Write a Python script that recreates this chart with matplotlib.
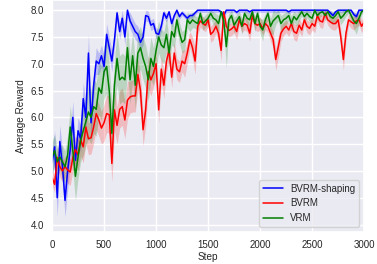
import numpy as np
import matplotlib
matplotlib.use('Agg')
import matplotlib.pyplot as plt
import seaborn as sns

sns.set_theme(style='darkgrid')
plt.rcParams['font.family'] = ['Liberation Sans', 'DejaVu Sans']

# training steps (every 25 steps, 0..3000)
steps = np.arange(0, 3001, 25)

# mean reward per method
shaping_mean = [
    5.15, 5.45, 4.5, 5.55, 5.1, 4.45, 5.0, 5.4, 6.0, 5.2,
    5.75, 5.6, 6.35, 6.0, 7.2, 5.9, 6.6, 7.05, 7.0, 7.15,
    6.95, 7.55, 7.3, 7.05, 7.45, 7.95, 7.6, 7.85, 7.5, 8.0,
    7.8, 7.7, 7.6, 7.55, 7.4, 7.5, 7.9, 7.88, 7.72, 7.75,
    7.57, 7.55, 7.7, 7.95, 7.85, 7.97, 7.75, 7.9, 8.0, 7.88,
    7.95, 7.9, 7.85, 7.9, 7.9, 7.95, 8.0, 8.0, 8.0, 8.0,
    8.0, 8.0, 8.0, 8.0, 8.0, 7.97, 7.9, 8.0, 8.0, 8.0,
    8.0, 7.96, 8.0, 8.0, 8.0, 8.0, 7.97, 8.0, 8.0, 8.0,
    8.0, 8.0, 8.0, 8.0, 8.0, 8.0, 8.0, 8.0, 8.0, 8.0,
    8.0, 7.97, 8.0, 8.0, 8.0, 8.0, 8.0, 8.0, 8.0, 8.0,
    8.0, 8.0, 8.0, 8.0, 8.0, 8.0, 8.0, 7.95, 7.9, 7.97,
    8.0, 8.0, 8.0, 8.0, 8.0, 8.0, 7.92, 7.88, 8.0, 8.0,
    8.0]
bvrm_mean = [
    4.88, 4.75, 5.25, 5.08, 5.0, 5.08, 5.02, 4.98, 5.25, 5.4,
    5.3, 5.58, 5.45, 5.82, 5.6, 5.62, 5.82, 6.07, 5.95, 5.8,
    5.9, 6.07, 6.05, 5.14, 6.14, 5.85, 6.15, 6.2, 5.95, 6.32,
    6.38, 6.4, 6.4, 6.8, 6.5, 5.77, 6.14, 6.85, 6.7, 6.82,
    7.0, 6.14, 6.9, 6.6, 7.05, 7.25, 6.75, 7.2, 6.9, 6.85,
    7.05, 7.0, 7.2, 7.45, 7.3, 7.05, 7.7, 7.8, 7.75, 7.72,
    7.82, 7.55, 7.6, 7.7, 7.57, 7.25, 7.97, 7.7, 7.62, 7.65,
    7.7, 7.6, 7.82, 7.7, 7.75, 7.72, 7.57, 7.9, 7.75, 7.72,
    7.75, 7.66, 7.75, 7.7, 7.57, 7.45, 7.08, 7.32, 7.57, 7.65,
    7.7, 7.63, 7.75, 7.6, 7.57, 7.72, 7.63, 7.82, 7.7, 7.66,
    7.75, 7.7, 7.9, 7.8, 7.78, 7.94, 7.82, 7.78, 7.75, 7.75,
    7.82, 7.5, 7.08, 7.57, 7.82, 7.78, 7.75, 7.8, 7.82, 7.7,
    7.78]
vrm_mean = [
    5.26, 5.38, 5.17, 5.26, 5.17, 5.08, 5.3, 5.82, 5.38, 4.9,
    5.26, 5.57, 5.75, 5.92, 6.1, 6.0, 6.2, 6.15, 6.55, 6.45,
    6.85, 6.95, 6.5, 5.7, 6.6, 7.1, 6.7, 6.75, 6.7, 7.3,
    6.7, 7.15, 6.6, 7.2, 7.3, 7.1, 6.95, 6.7, 7.1, 6.95,
    7.25, 7.5, 7.35, 7.3, 7.55, 7.2, 7.6, 7.5, 7.82, 7.57,
    7.4, 7.45, 7.82, 7.75, 7.82, 7.78, 7.75, 7.94, 7.75, 7.8,
    7.85, 7.94, 7.85, 7.82, 7.75, 7.97, 7.8, 7.32, 7.82, 7.9,
    7.72, 7.8, 7.88, 7.7, 7.94, 7.85, 7.82, 7.97, 7.75, 7.94,
    7.7, 7.63, 7.82, 7.94, 7.7, 7.8, 7.85, 7.9, 7.75, 7.82,
    7.85, 7.9, 7.75, 7.88, 7.82, 7.9, 7.97, 7.88, 7.94, 7.88,
    7.85, 8.0, 7.9, 7.95, 7.97, 7.9, 7.97, 7.88, 7.85, 7.9,
    7.97, 7.85, 7.9, 7.97, 8.0, 7.9, 7.8, 7.75, 7.85, 7.97,
    8.0]

# half-width of the shaded confidence band
shaping_ci = [
    0.25, 0.3, 0.35, 0.3, 0.3, 0.3, 0.35, 0.3, 0.3, 0.25,
    0.25, 0.25, 0.3, 0.3, 0.35, 0.3, 0.25, 0.25, 0.2, 0.2,
    0.2, 0.2, 0.2, 0.2, 0.15, 0.15, 0.15, 0.15, 0.15, 0.1,
    0.15, 0.15, 0.15, 0.15, 0.15, 0.15, 0.1, 0.1, 0.1, 0.1,
    0.1, 0.1, 0.1, 0.08, 0.08, 0.05, 0.08, 0.05, 0.05, 0.05,
    0.05, 0.05, 0.05, 0.05, 0.05, 0.04, 0.04, 0.04, 0.04, 0.04,
    0.04, 0.04, 0.04, 0.04, 0.04, 0.04, 0.05, 0.04, 0.04, 0.04,
    0.04, 0.04, 0.04, 0.04, 0.04, 0.04, 0.04, 0.04, 0.04, 0.04,
    0.04, 0.04, 0.04, 0.04, 0.04, 0.04, 0.04, 0.04, 0.04, 0.04,
    0.04, 0.04, 0.04, 0.04, 0.04, 0.04, 0.04, 0.04, 0.04, 0.04,
    0.04, 0.04, 0.04, 0.04, 0.04, 0.04, 0.04, 0.05, 0.05, 0.04,
    0.04, 0.04, 0.04, 0.04, 0.04, 0.04, 0.05, 0.05, 0.04, 0.04,
    0.04]
bvrm_ci = [
    0.15, 0.15, 0.2, 0.2, 0.2, 0.2, 0.25, 0.25, 0.25, 0.25,
    0.3, 0.3, 0.3, 0.3, 0.3, 0.3, 0.3, 0.3, 0.3, 0.3,
    0.35, 0.35, 0.35, 0.35, 0.4, 0.35, 0.35, 0.35, 0.35, 0.35,
    0.3, 0.3, 0.3, 0.3, 0.3, 0.3, 0.3, 0.3, 0.3, 0.25,
    0.25, 0.25, 0.25, 0.25, 0.2, 0.2, 0.2, 0.2, 0.2, 0.2,
    0.2, 0.25, 0.2, 0.15, 0.2, 0.25, 0.15, 0.12, 0.12, 0.12,
    0.12, 0.15, 0.15, 0.12, 0.15, 0.2, 0.08, 0.12, 0.12, 0.12,
    0.12, 0.15, 0.1, 0.12, 0.12, 0.12, 0.15, 0.1, 0.12, 0.12,
    0.12, 0.12, 0.12, 0.12, 0.15, 0.15, 0.2, 0.2, 0.15, 0.12,
    0.12, 0.12, 0.12, 0.15, 0.15, 0.12, 0.12, 0.1, 0.12, 0.12,
    0.12, 0.12, 0.1, 0.12, 0.12, 0.08, 0.1, 0.12, 0.12, 0.12,
    0.1, 0.15, 0.2, 0.15, 0.1, 0.12, 0.12, 0.12, 0.1, 0.12,
    0.1]
vrm_ci = [
    0.3, 0.3, 0.25, 0.25, 0.3, 0.3, 0.35, 0.4, 0.4, 0.45,
    0.4, 0.4, 0.45, 0.45, 0.5, 0.5, 0.5, 0.5, 0.5, 0.5,
    0.5, 0.5, 0.5, 0.55, 0.5, 0.5, 0.45, 0.45, 0.45, 0.45,
    0.45, 0.45, 0.45, 0.4, 0.4, 0.4, 0.4, 0.4, 0.4, 0.35,
    0.35, 0.3, 0.3, 0.3, 0.3, 0.25, 0.25, 0.2, 0.2, 0.2,
    0.2, 0.2, 0.15, 0.15, 0.15, 0.12, 0.12, 0.1, 0.12, 0.12,
    0.12, 0.1, 0.12, 0.12, 0.15, 0.1, 0.15, 0.4, 0.12, 0.1,
    0.15, 0.12, 0.1, 0.15, 0.1, 0.12, 0.12, 0.1, 0.15, 0.1,
    0.15, 0.2, 0.12, 0.1, 0.15, 0.25, 0.12, 0.1, 0.15, 0.12,
    0.12, 0.1, 0.15, 0.1, 0.12, 0.1, 0.08, 0.1, 0.08, 0.1,
    0.1, 0.06, 0.1, 0.08, 0.06, 0.1, 0.06, 0.1, 0.12, 0.1,
    0.08, 0.12, 0.1, 0.08, 0.06, 0.1, 0.15, 0.2, 0.12, 0.06,
    0.05]

series = [
    ('BVRM-shaping', shaping_mean, shaping_ci, 'blue'),
    ('BVRM', bvrm_mean, bvrm_ci, 'red'),
    ('VRM', vrm_mean, vrm_ci, 'green'),
]

fig = plt.figure(figsize=(3.77, 2.64), dpi=100)
ax = fig.add_axes([0.138, 0.121, 0.828, 0.879])

for label, mean, ci, color in series:
    mean = np.array(mean)
    ci = np.array(ci)
    ax.plot(steps, mean, color=color, linewidth=1.1, label=label)
    ax.fill_between(steps, mean - ci, np.minimum(mean + ci, 8.0),
                    color=color, alpha=0.2, linewidth=0)

ax.set_xlim(0, 3000)
ax.set_ylim(3.86, 8.19)
ax.set_xticks([0, 500, 1000, 1500, 2000, 2500, 3000])
ax.set_yticks([4.0, 4.5, 5.0, 5.5, 6.0, 6.5, 7.0, 7.5, 8.0])
ax.tick_params(axis='both', labelsize=7, length=0, pad=6)
ax.set_xlabel('Step', fontsize=7.2, labelpad=1.5)
ax.set_ylabel('Average Reward', fontsize=7.2, labelpad=3)
ax.legend(loc='lower right', fontsize=7)

fig.savefig('out.png', dpi=100)
